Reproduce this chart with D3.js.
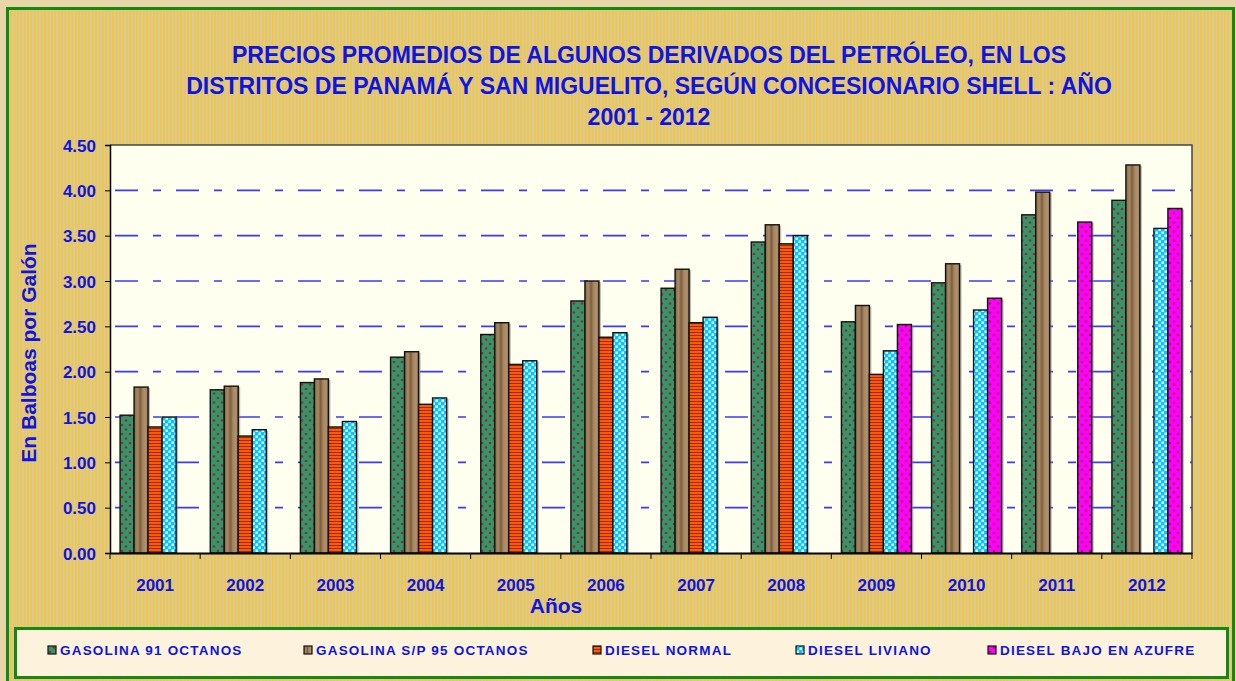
<!DOCTYPE html>
<html>
<head>
<meta charset="utf-8">
<script src="https://cdn.jsdelivr.net/npm/d3@7"></script>
<style>
  body { margin: 0; background: #e8d6a8; }
  svg { display: block; }
  text { font-family: "Liberation Sans", Arial, sans-serif; font-weight: bold; }
</style>
</head>
<body>
<div id="chart"></div>
<script>
var years = ["2001", "2002", "2003", "2004", "2005", "2006", "2007", "2008", "2009", "2010", "2011", "2012"];
var seriesNames = ["GASOLINA 91 OCTANOS", "GASOLINA S/P 95 OCTANOS", "DIESEL NORMAL", "DIESEL LIVIANO", "DIESEL BAJO EN AZUFRE"];
var gasolina91 = [1.52, 1.80, 1.88, 2.16, 2.41, 2.78, 2.92, 3.43, 2.55, 2.98, 3.73, 3.89];
var gasolina95 = [1.83, 1.84, 1.92, 2.22, 2.54, 3.00, 3.13, 3.62, 2.73, 3.19, 3.98, 4.28];
var dieselNormal = [1.39, 1.29, 1.39, 1.64, 2.08, 2.38, 2.54, 3.41, 1.97, null, null, null];
var dieselLiviano = [1.50, 1.36, 1.45, 1.71, 2.12, 2.43, 2.60, 3.50, 2.23, 2.68, null, 3.58];
var dieselBajo = [null, null, null, null, null, null, null, null, 2.52, 2.81, 3.65, 3.80];
var yTicks = [0, 0.5, 1, 1.5, 2, 2.5, 3, 3.5, 4, 4.5];
var titleLines = ["PRECIOS PROMEDIOS DE ALGUNOS DERIVADOS DEL PETRÓLEO, EN LOS",
                  "DISTRITOS DE PANAMÁ Y SAN MIGUELITO, SEGÚN CONCESIONARIO SHELL : AÑO",
                  "2001 - 2012"];

var allSeries = [gasolina91, gasolina95, dieselNormal, dieselLiviano, dieselBajo];
var fills = ["url(#pGreen)", "url(#pWood)", "url(#pOrange)", "url(#pCyan)", "url(#pMagenta)"];

var W = 1236, H = 681,
    plot = {left: 110, top: 145, right: 1192, bottom: 553};

var svg = d3.select("#chart").append("svg")
    .attr("width", W)
    .attr("height", H);

// ---- patterns
var defs = svg.append("defs");

var stripes = defs.append("pattern").attr("id", "pStripe")
    .attr("patternUnits", "userSpaceOnUse").attr("width", 3.4).attr("height", 10);
stripes.append("rect").attr("width", 3.4).attr("height", 10).attr("fill", "#cfc8c4");
stripes.append("rect").attr("width", 1.8).attr("height", 10).attr("fill", "#f7c826");

function dotPattern(id, base, dot) {
    var p = defs.append("pattern").attr("id", id)
        .attr("patternUnits", "userSpaceOnUse").attr("width", 8).attr("height", 9);
    p.append("rect").attr("width", 8).attr("height", 9).attr("fill", base);
    p.append("circle").attr("cx", 2).attr("cy", 2).attr("r", 1.3).attr("fill", dot);
    p.append("circle").attr("cx", 6).attr("cy", 6.5).attr("r", 1.3).attr("fill", dot);
}
dotPattern("pGreen", "#35956a", "#9a2a2a");
dotPattern("pMagenta", "#ff00ff", "#a01a50");

var orange = defs.append("pattern").attr("id", "pOrange")
    .attr("patternUnits", "userSpaceOnUse").attr("width", 6).attr("height", 3);
orange.append("rect").attr("width", 6).attr("height", 3).attr("fill", "#ff5a00");
orange.append("rect").attr("y", 2).attr("width", 6).attr("height", 1).attr("fill", "#9c2a00");

var cyan = defs.append("pattern").attr("id", "pCyan")
    .attr("patternUnits", "userSpaceOnUse").attr("width", 6).attr("height", 6);
cyan.append("rect").attr("width", 6).attr("height", 6).attr("fill", "#00c8ff");
cyan.append("rect").attr("x", 0.5).attr("y", 0.5).attr("width", 2.5).attr("height", 2.5).attr("fill", "#e6fbff");
cyan.append("rect").attr("x", 3.5).attr("y", 3.5).attr("width", 2.5).attr("height", 2.5).attr("fill", "#e6fbff");

var wood = defs.append("linearGradient").attr("id", "gWood")
    .attr("x1", 0).attr("x2", 1).attr("y1", 0).attr("y2", 0);
[["0", "#8a6a48"], ["0.25", "#a88a64"], ["0.45", "#7a5c3c"], ["0.6", "#a5865f"], ["0.85", "#b09270"], ["1", "#8d6d4a"]]
    .forEach(function(s) { wood.append("stop").attr("offset", s[0]).attr("stop-color", s[1]); });
var woodP = defs.append("pattern").attr("id", "pWood")
    .attr("patternUnits", "objectBoundingBox").attr("width", 1).attr("height", 1)
    .attr("patternContentUnits", "objectBoundingBox");
woodP.append("rect").attr("width", 1).attr("height", 1).attr("fill", "url(#gWood)");

// ---- backgrounds
svg.append("rect")
    .attr("x", 7.5).attr("y", 8.5).attr("width", 1226).attr("height", 690)
    .attr("fill", "url(#pStripe)")
    .attr("stroke", "#128a12").attr("stroke-width", 3);

svg.append("rect")
    .attr("x", plot.left).attr("y", plot.top)
    .attr("width", plot.right - plot.left).attr("height", plot.bottom - plot.top)
    .attr("fill", "#fffff0");

// ---- scales
var x0 = d3.scaleBand().domain(years).range([plot.left, plot.right]).paddingInner(0).paddingOuter(0);
var x1 = d3.scaleBand().domain(d3.range(allSeries.length)).range([0, x0.bandwidth()])
    .paddingInner(0).paddingOuter(0.72);
var y = d3.scaleLinear().domain([0, 4.5]).range([plot.bottom, plot.top]);

// gridlines
svg.append("g").selectAll("line")
    .data(yTicks.filter(function(t) { return t > 0 && t < 4.5; }))
    .enter().append("line")
    .attr("x1", plot.left).attr("x2", plot.right)
    .attr("y1", function(d) { return y(d); }).attr("y2", function(d) { return y(d); })
    .attr("stroke", "#3a3aff").attr("stroke-width", 1.6)
    .attr("stroke-dasharray", "23,15,8,15").attr("stroke-dashoffset", 56);

// plot border (top / right)
svg.append("path")
    .attr("d", "M" + plot.left + "," + plot.top + "H" + plot.right + "V" + plot.bottom)
    .attr("fill", "none").attr("stroke", "#444").attr("stroke-width", 1.5);

// ---- bars
var barData = [];
years.forEach(function(yr, i) {
    allSeries.forEach(function(s, k) {
        if (s[i] != null) barData.push({year: yr, k: k, v: s[i]});
    });
});

var bars = svg.append("g");
bars.selectAll(".shadow")
    .data(barData).enter().append("rect")
    .attr("class", "shadow")
    .attr("x", function(d) { return x0(d.year) + x1(d.k) + 2; })
    .attr("y", function(d) { return y(d.v) + 1; })
    .attr("width", x1.bandwidth())
    .attr("height", function(d) { return plot.bottom - y(d.v) - 1; })
    .attr("fill", "#888").attr("opacity", 0.55);

bars.selectAll(".bar")
    .data(barData).enter().append("rect")
    .attr("class", "bar")
    .attr("x", function(d) { return x0(d.year) + x1(d.k); })
    .attr("y", function(d) { return y(d.v); })
    .attr("width", x1.bandwidth())
    .attr("height", function(d) { return plot.bottom - y(d.v); })
    .attr("fill", function(d) { return fills[d.k]; })
    .attr("stroke", "#111").attr("stroke-width", 1.4);

// ---- axes
var yAxis = svg.append("g")
    .attr("transform", "translate(" + plot.left + ",0)")
    .call(d3.axisLeft(y).tickValues(yTicks).tickFormat(d3.format(".2f")).tickSize(5).tickPadding(9));
yAxis.select(".domain").attr("stroke", "#000").attr("stroke-width", 1.5);
yAxis.selectAll("line").attr("stroke", "#000");
yAxis.selectAll("text").attr("fill", "#0c14e6").style("font-size", "17px").attr("dy", "0.36em");

var xAxis = svg.append("g")
    .attr("transform", "translate(0," + plot.bottom + ")")
    .call(d3.axisBottom(x0).tickSize(0).tickPadding(26));
xAxis.select(".domain").attr("stroke", "#000").attr("stroke-width", 1.8);
xAxis.selectAll("text").attr("fill", "#0c14e6").style("font-size", "17px");
xAxis.append("g").selectAll("line")
    .data(years.concat(["end"])).enter().append("line")
    .attr("x1", function(d, i) { return plot.left + i * x0.step(); })
    .attr("x2", function(d, i) { return plot.left + i * x0.step(); })
    .attr("y1", 0).attr("y2", 6)
    .attr("stroke", "#000").attr("stroke-width", 1);

// ---- titles
svg.append("g").selectAll("text")
    .data(titleLines).enter().append("text")
    .attr("x", 649).attr("y", function(d, i) { return 63 + i * 31; })
    .attr("text-anchor", "middle")
    .attr("fill", "#0c14e6").style("font-size", "23px")
    .text(function(d) { return d; });

svg.append("text")
    .attr("transform", "translate(36,353) rotate(-90)")
    .attr("text-anchor", "middle")
    .attr("fill", "#0c14e6").style("font-size", "21px")
    .text("En Balboas por Galón");

svg.append("text")
    .attr("x", 556).attr("y", 613)
    .attr("text-anchor", "middle")
    .attr("fill", "#0c14e6").style("font-size", "21px")
    .text("Años");

// ---- legend
svg.append("rect")
    .attr("x", 15.5).attr("y", 628.5).attr("width", 1212).attr("height", 49)
    .attr("fill", "#fdf2dc")
    .attr("stroke", "#128a12").attr("stroke-width", 3);

var legendX = [48, 304, 593, 796, 988];
var legend = svg.append("g").selectAll("g")
    .data(seriesNames).enter().append("g")
    .attr("transform", function(d, i) { return "translate(" + legendX[i] + ",650)"; });
legend.append("rect")
    .attr("x", 0).attr("y", -4).attr("width", 8).attr("height", 8)
    .attr("fill", function(d, i) { return fills[i]; })
    .attr("stroke", "#111").attr("stroke-width", 1.2);
legend.append("text")
    .attr("x", 12).attr("y", 5)
    .attr("fill", "#0c14e6").style("font-size", "13.5px").style("letter-spacing", "1.2px")
    .text(function(d) { return d; });
</script>
</body>
</html>
